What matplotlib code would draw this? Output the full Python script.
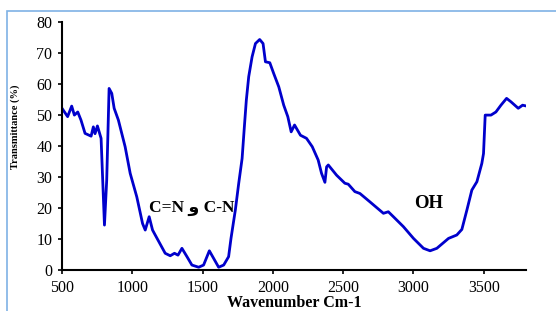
import matplotlib
matplotlib.use("Agg")
import matplotlib.pyplot as plt
from matplotlib.patches import Rectangle

# FTIR spectrum
wavenumber = [500, 540, 569, 588, 612, 635, 664, 707, 723, 735, 752, 778, 802, 818, 835,
              854, 871, 901, 949, 985, 1032, 1073, 1092, 1120, 1144, 1163, 1234, 1270,
              1300, 1325, 1353, 1389, 1424, 1472, 1507, 1548, 1578, 1614, 1650, 1685,
              1702, 1733, 1757, 1781, 1797, 1811, 1828, 1852, 1876, 1906, 1930, 1947,
              1978, 2006, 2042, 2077, 2106, 2130, 2154, 2196, 2239, 2280, 2322, 2346,
              2370, 2382, 2394, 2453, 2512, 2536, 2583, 2619, 2690, 2786, 2821, 2857,
              2928, 3000, 3071, 3118, 3166, 3249, 3308, 3344, 3380, 3415, 3451, 3486,
              3498, 3510, 3551, 3586, 3622, 3662, 3693, 3745, 3776, 3805]
transmittance = [52.2, 49.5, 52.9, 50.0, 51.0, 48.4, 44.1, 43.2, 46.2, 44.0, 46.5, 42.5, 14.5,
                 29.0, 58.6, 57.0, 52.2, 48.4, 39.8, 31.2, 23.6, 15.0, 12.9, 17.2, 12.9,
                 11.3, 5.4, 4.6, 5.4, 4.8, 7.0, 4.3, 1.6, 0.9, 1.6, 6.2, 3.8, 0.9, 1.6,
                 4.3, 10.2, 19.4, 28.0, 36.0, 46.2, 54.8, 62.4, 68.8, 73.1, 74.4, 73.1,
                 67.2, 66.9, 63.4, 59.1, 53.2, 49.5, 44.6, 46.8, 43.5, 42.5, 39.8, 35.5,
                 31.2, 28.3, 33.3, 33.9, 30.6, 28.0, 27.7, 25.3, 24.7, 22.0, 18.3, 18.8,
                 17.2, 14.0, 10.2, 7.0, 6.2, 7.0, 10.2, 11.3, 13.1, 19.4, 25.8, 28.5,
                 34.4, 37.6, 50.0, 50.0, 51.0, 53.2, 55.4, 54.3, 52.2, 53.2, 52.9]

plt.rcParams["font.family"] = ["Liberation Serif", "DejaVu Sans"]

fig = plt.figure(figsize=(5.56, 3.11), dpi=100)
ax = fig.add_axes([0.1115, 0.1318, 0.8345, 0.797])

# light blue frame around the chart
fig.patches.append(Rectangle((7 / 556, -0.1), 1.2, 1.1 - 11 / 311, transform=fig.transFigure,
                             fill=False, edgecolor="#7fb2e5", linewidth=1.2))

ax.plot(wavenumber, transmittance, color="#0000cc", linewidth=2.0)

ax.set_xlim(500, 3800)
ax.set_ylim(0, 80)
ax.set_xticks([500, 1000, 1500, 2000, 2500, 3000, 3500])
ax.set_yticks(range(0, 81, 10))
ax.spines["top"].set_visible(False)
ax.spines["right"].set_visible(False)
ax.spines["left"].set_linewidth(1.5)
ax.spines["bottom"].set_linewidth(1.5)
ax.tick_params(direction="out", length=3, width=1.2, labelsize=11.5, pad=4)

ax.set_xlabel("Wavenumber Cm-1", fontsize=11.5, fontweight="bold")
ax.xaxis.set_label_coords(0.5, -0.102)
ax.set_ylabel("Transmittance (%)", fontsize=7.5, fontweight="bold")
ax.yaxis.set_label_coords(-0.09, 0.577)

ax.text(1120, 20, "C=N و C-N", fontsize=12.5, fontweight="bold", va="center", ha="left")
ax.text(3109, 21.6, "OH", fontsize=13.5, fontweight="bold", va="center", ha="center")

fig.savefig("out.png", dpi=100)
